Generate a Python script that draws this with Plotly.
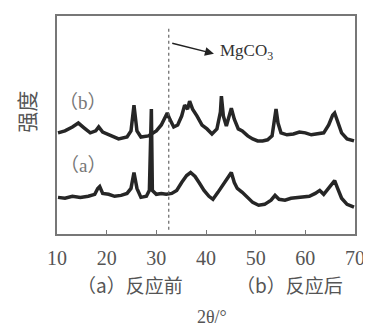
import plotly.graph_objects as go

# curve (b): after reaction
b_2theta = [10.2, 11.6, 13.1, 14.3, 15.5, 16.7, 17.8, 18.4, 19.2, 20.8, 22.4, 24.1, 24.9, 25.5, 26.1,
            26.9, 28.4, 29.0, 30.0, 31.0, 31.8, 32.2, 32.7, 33.5, 34.3, 35.1, 35.7, 36.3, 36.7, 37.3,
            38.2, 39.2, 40.2, 41.2, 42.2, 42.9, 43.1, 43.5, 44.1, 44.7, 45.1, 45.7, 46.5, 47.3, 48.4,
            49.4, 50.4, 51.4, 52.4, 53.3, 53.9, 54.1, 54.5, 55.1, 56.3, 57.6, 58.8, 60.0, 61.2, 62.4,
            63.7, 64.7, 65.5, 65.9, 66.5, 67.3, 68.4, 69.8]
b_int = [46.4, 47.3, 49.1, 50.9, 48.6, 46.4, 47.3, 49.1, 46.8, 45.0, 43.6, 44.5, 47.3, 59.1, 47.3,
         44.5, 45.0, 45.9, 47.3, 50.0, 53.2, 55.5, 52.7, 49.1, 50.0, 54.1, 59.1, 57.3, 60.9, 57.3,
         54.1, 50.0, 48.2, 45.9, 48.2, 55.9, 63.2, 54.1, 49.5, 55.0, 57.7, 52.7, 48.2, 47.3, 45.0,
         43.6, 42.7, 42.7, 43.2, 45.0, 52.7, 57.3, 50.9, 46.4, 45.5, 45.9, 46.8, 46.4, 45.5, 45.9,
         46.4, 50.0, 54.5, 55.5, 51.8, 46.4, 43.6, 42.7]

# curve (a): before reaction
a_2theta = [10.2, 11.6, 13.1, 14.7, 16.3, 17.6, 18.2, 18.6, 19.2, 20.4, 21.6, 22.9, 24.1, 24.9, 25.5,
            26.1, 26.9, 28.0, 28.6, 29.0, 29.2, 30.0, 31.0, 32.0, 33.1, 34.1, 35.1, 36.1, 36.9, 37.8,
            38.6, 39.6, 40.6, 41.4, 42.4, 43.5, 44.3, 45.1, 45.7, 46.3, 47.3, 48.4, 49.4, 50.6, 51.8,
            53.1, 53.9, 54.7, 55.9, 57.1, 58.4, 59.6, 60.8, 62.0, 62.9, 63.7, 64.7, 65.5, 65.9, 66.5,
            67.3, 68.4, 69.8]
a_int = [16.8, 16.4, 17.3, 16.8, 17.3, 18.2, 20.9, 21.8, 18.6, 18.2, 17.3, 17.7, 18.6, 20.9, 28.2,
         20.9, 16.8, 17.3, 20.0, 57.3, 20.0, 18.2, 18.6, 18.2, 18.6, 20.0, 23.6, 26.8, 28.2, 26.4,
         23.6, 20.0, 17.3, 15.9, 19.1, 22.7, 25.5, 28.2, 23.6, 20.9, 19.1, 16.4, 14.5, 13.2, 13.6,
         15.5, 17.7, 15.9, 15.5, 16.4, 16.8, 17.3, 17.3, 18.6, 20.0, 18.2, 20.9, 23.6, 24.5, 20.9,
         16.4, 13.6, 12.3]

x_ticks = [10, 20, 30, 40, 50, 60, 70]
mgco3_pos = 32.5

curve_color = "#262626"
text_color = "#555555"
serif = "Liberation Serif, DejaVu Serif, Noto Sans CJK SC, serif"
cjk = "Noto Sans CJK SC, sans-serif"

fig = go.Figure()
fig.add_trace(go.Scatter(x=b_2theta, y=b_int, mode="lines",
                         line=dict(color=curve_color, width=3.5), showlegend=False))
fig.add_trace(go.Scatter(x=a_2theta, y=a_int, mode="lines",
                         line=dict(color=curve_color, width=3.5), showlegend=False))

fig.add_shape(type="line", x0=mgco3_pos, x1=mgco3_pos, y0=2, y1=95, xref="x", yref="y",
              line=dict(color="#666666", width=1.2, dash="dot"))

fig.add_annotation(x=41.6, y=82.7, ax=32.9, ay=87.7, xref="x", yref="y", axref="x", ayref="y",
                   text="", showarrow=True, arrowhead=2, arrowsize=1.2, arrowwidth=1.5,
                   arrowcolor="#222222")
fig.add_annotation(x=42.4, y=83.6, xref="x", yref="y", text="MgCO<sub>3</sub>", showarrow=False,
                   xanchor="left", yanchor="middle", font=dict(family=serif, size=17, color="#333333"))
fig.add_annotation(x=15.3, y=60.5, xref="x", yref="y", text="（b）", showarrow=False,
                   xanchor="center", font=dict(family=serif, size=19, color="#777777"))
fig.add_annotation(x=15.3, y=31.5, xref="x", yref="y", text="（a）", showarrow=False,
                   xanchor="center", font=dict(family=serif, size=19, color="#777777"))

fig.add_annotation(x=-0.105, y=0.56, xref="paper", yref="paper", text="强度", showarrow=False,
                   textangle=-90, xanchor="center", yanchor="middle",
                   font=dict(family=cjk, size=21, color=text_color))
fig.add_annotation(x=0.245, y=-0.232, xref="paper", yref="paper",
                   text="（a）反应前", showarrow=False, xanchor="center", yanchor="middle",
                   font=dict(family=cjk, size=19, color=text_color))
fig.add_annotation(x=0.781, y=-0.232, xref="paper", yref="paper",
                   text="（b）反应后", showarrow=False, xanchor="center", yanchor="middle",
                   font=dict(family=cjk, size=19, color=text_color))
fig.add_annotation(x=0.52, y=-0.38, xref="paper", yref="paper", text="2θ/°", showarrow=False,
                   xanchor="center", yanchor="middle",
                   font=dict(family=serif, size=18, color=text_color))

# page body has an 8px margin: shrink the figure so the plot area sits at x 57-351, y 14-234
fig.update_layout(
    width=363, height=321,
    margin=dict(l=49, r=12, t=6, b=95),
    paper_bgcolor="white", plot_bgcolor="white",
    xaxis=dict(range=[10, 70], tickvals=x_ticks, ticktext=[str(t) for t in x_ticks],
               showgrid=False, zeroline=False, showline=True, linecolor="#777777", linewidth=1.5,
               mirror=True, ticks="inside", ticklen=4, tickcolor="#777777",
               ticklabelstandoff=5,
               tickfont=dict(family=serif, size=20, color=text_color)),
    yaxis=dict(range=[0, 100], showgrid=False, zeroline=False, showline=True,
               linecolor="#777777", linewidth=1.5, mirror=True, showticklabels=False, ticks=""),
)

fig.write_html("out.html")
